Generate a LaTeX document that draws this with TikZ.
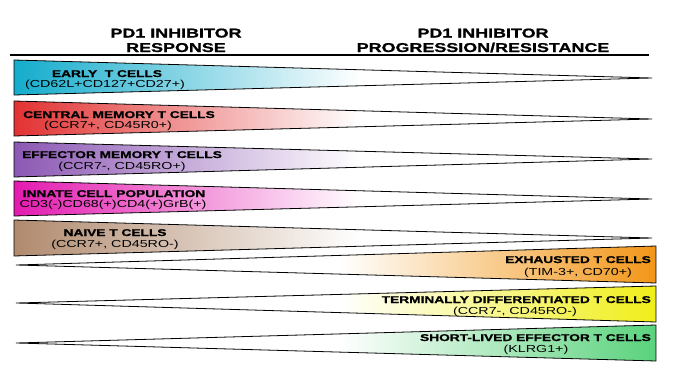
\documentclass[tikz,border=0pt]{standalone}
\usepackage{fontspec}
\setmainfont{Liberation Sans}[FakeStretch=1.4, BoldFeatures={FakeBold=1.2}]
\usepackage{tikz}
\usetikzlibrary{calc}

\definecolor{earlyc}{RGB}{20,172,204}
\definecolor{centralc}{RGB}{226,50,50}
\definecolor{effectc}{RGB}{140,88,180}
\definecolor{innatec}{RGB}{228,26,176}
\definecolor{naivec}{RGB}{176,138,110}
\definecolor{exhaustc}{RGB}{242,150,24}
\definecolor{termc}{RGB}{240,238,24}
\definecolor{shortc}{RGB}{90,210,124}

\tikzset{
  head/.style={font=\bfseries\fontsize{12.8}{14}\selectfont, anchor=base, inner sep=0pt},
  cellname/.style={font=\bfseries\fontsize{9.8}{11}\selectfont, anchor=base, inner sep=0pt},
  marker/.style={font=\fontsize{10.2}{11}\selectfont, anchor=base, inner sep=0pt},
  wedge/.style={line width=0.8pt, color=black, line join=miter}
}

\begin{document}
\begin{tikzpicture}[x=1pt,y=-1pt]
\useasboundingbox (0,0) rectangle (675,372);

% column headers
\node[head] (resp1) at (176,37.5) {PD1 INHIBITOR};
\node[head] (resp2) at (176,52) {RESPONSE};
\node[head] (prog1) at (483,37.5) {PD1 INHIBITOR};
\node[head] (prog2) at (483,52) {PROGRESSION/RESISTANCE};

\coordinate (r1) at (10,54.5);
\coordinate (r2) at (649,54.5);
\draw[line width=2pt, color=black] (r1) -- (r2);

% wedges narrowing to the right
\foreach \i/\ya/\yb/\yc/\c in {1/60/95/78/earlyc, 2/101/136/119/centralc, 3/142/177/159/effectc, 4/181/216/199/innatec, 5/220/256/238/naivec} {
    \coordinate (a\i) at (14,\ya);
    \coordinate (b\i) at (14,\yb);
    \coordinate (t\i) at (652,\yc);
    \begin{scope}
        \clip (a\i) -- (t\i) -- (b\i) -- cycle;
        \shade[left color=\c, right color=white] (14,\ya) rectangle (360,\yb);
    \end{scope}
    \draw[wedge] (a\i) -- (t\i) -- (b\i) -- cycle;
};

% wedges narrowing to the left
\foreach \i/\ya/\yb/\yc/\c in {6/246/283/265/exhaustc, 7/286/322/303/termc, 8/325/361/343/shortc} {
    \coordinate (a\i) at (656,\ya);
    \coordinate (b\i) at (656,\yb);
    \coordinate (t\i) at (16,\yc);
    \begin{scope}
        \clip (a\i) -- (t\i) -- (b\i) -- cycle;
        \shade[left color=white, right color=\c] (340,\ya) rectangle (656,\yb);
    \end{scope}
    \draw[wedge] (a\i) -- (t\i) -- (b\i) -- cycle;
};

% labels
\node[cellname] (n1) at (107,77) {EARLY\ \ T CELLS};
\node[marker] (m1) at (105,87.5) {(CD62L+CD127+CD27+)};
\node[cellname] (n2) at (119,118) {CENTRAL MEMORY T CELLS};
\node[marker] (m2) at (108,128) {(CCR7+, CD45R0+)};
\node[cellname] (n3) at (122,158) {EFFECTOR MEMORY T CELLS};
\node[marker] (m3) at (122,169) {(CCR7-, CD45RO+)};
\node[cellname] (n4) at (114,197) {INNATE CELL POPULATION};
\node[marker] (m4) at (113,207) {CD3(-)CD68(+)CD4(+)GrB(+)};
\node[cellname] (n5) at (115,236) {NAIVE T CELLS};
\node[marker] (m5) at (115,247) {(CCR7+, CD45RO-)};

\node[cellname, anchor=base east] (n6) at (651,263) {EXHAUSTED T CELLS};
\node[marker] (m6) at (578,275) {(TIM-3+, CD70+)};
\node[cellname, anchor=base east] (n7) at (651,303) {TERMINALLY DIFFERENTIATED T CELLS};
\node[marker] (m7) at (515,314) {(CCR7-, CD45RO-)};
\node[cellname, anchor=base east] (n8) at (651,341) {SHORT-LIVED EFFECTOR T CELLS};
\node[marker] (m8) at (536,352) {(KLRG1+)};

\end{tikzpicture}
\end{document}
